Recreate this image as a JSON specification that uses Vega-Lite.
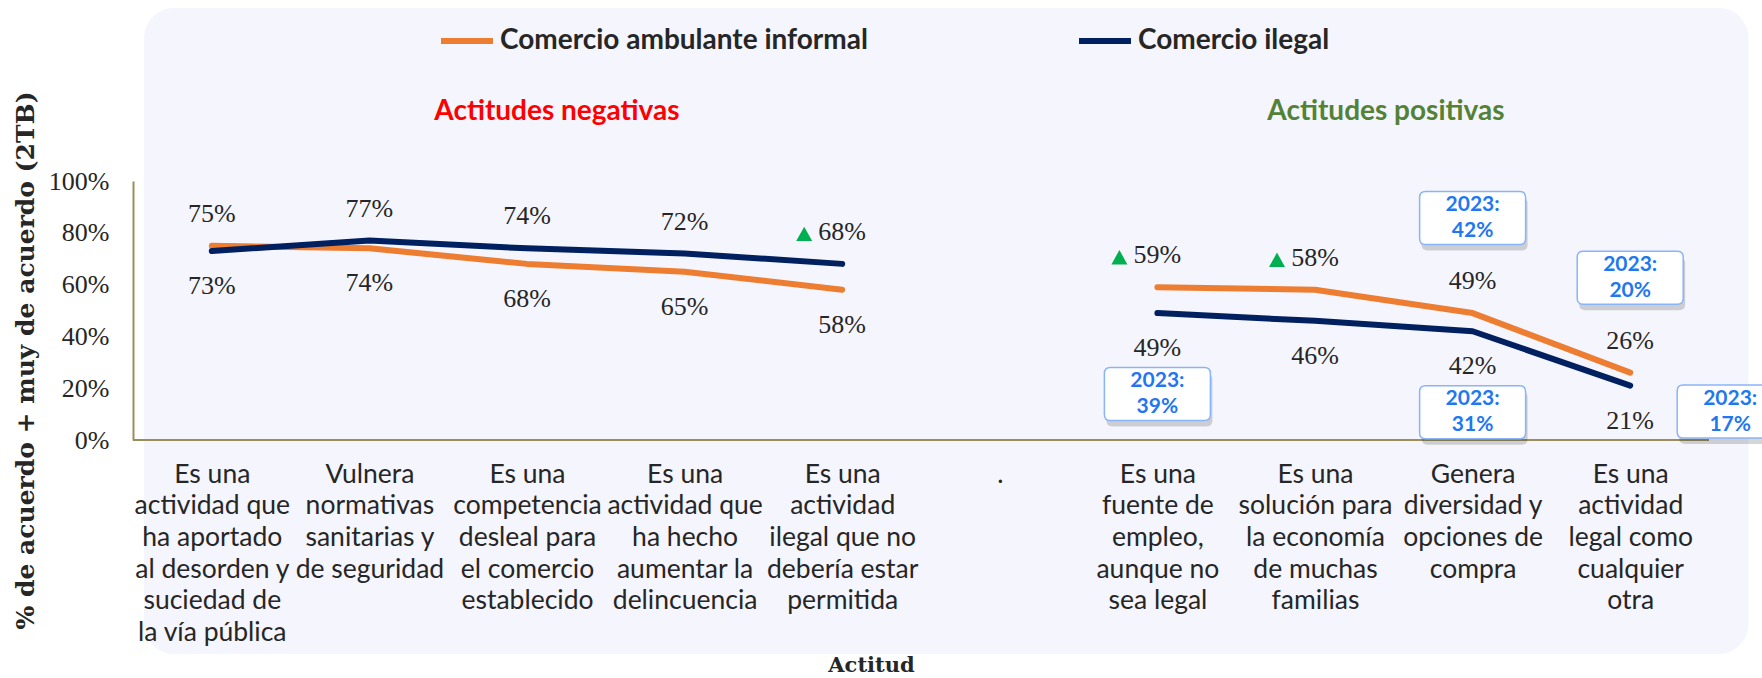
{
  "$schema": "https://vega.github.io/schema/vega-lite/v6.json",
  "width": 1576,
  "height": 259,
  "autosize": {"type": "none"},
  "padding": {"left": 133, "top": 181, "right": 53, "bottom": 238},
  "background": "#FFFFFF",
  "config": {"view": {"stroke": null}, "font": "Lato"},
  "data": {
    "values": [
      {"idx": 1, "cat": "Es una|actividad que|ha aportado|al desorden y|suciedad de|la vía pública", "serie": "Comercio ambulante informal", "grupo": "neg", "valor": 0.75},
      {"idx": 2, "cat": "Vulnera|normativas|sanitarias y|de seguridad", "serie": "Comercio ambulante informal", "grupo": "neg", "valor": 0.74},
      {"idx": 3, "cat": "Es una|competencia|desleal para|el comercio|establecido", "serie": "Comercio ambulante informal", "grupo": "neg", "valor": 0.68},
      {"idx": 4, "cat": "Es una|actividad que|ha hecho|aumentar la|delincuencia", "serie": "Comercio ambulante informal", "grupo": "neg", "valor": 0.65},
      {"idx": 5, "cat": "Es una|actividad|ilegal que no|debería estar|permitida", "serie": "Comercio ambulante informal", "grupo": "neg", "valor": 0.58},
      {"idx": 7, "cat": "Es una|fuente de|empleo,|aunque no|sea legal", "serie": "Comercio ambulante informal", "grupo": "pos", "valor": 0.59, "sube": true},
      {"idx": 8, "cat": "Es una|solución para|la economía|de muchas|familias", "serie": "Comercio ambulante informal", "grupo": "pos", "valor": 0.58, "sube": true},
      {"idx": 9, "cat": "Genera|diversidad y|opciones de|compra", "serie": "Comercio ambulante informal", "grupo": "pos", "valor": 0.49, "prev": 0.42},
      {"idx": 10, "cat": "Es una|actividad|legal como|cualquier|otra", "serie": "Comercio ambulante informal", "grupo": "pos", "valor": 0.26, "prev": 0.20},
      {"idx": 1, "cat": "Es una|actividad que|ha aportado|al desorden y|suciedad de|la vía pública", "serie": "Comercio ilegal", "grupo": "neg", "valor": 0.73},
      {"idx": 2, "cat": "Vulnera|normativas|sanitarias y|de seguridad", "serie": "Comercio ilegal", "grupo": "neg", "valor": 0.77},
      {"idx": 3, "cat": "Es una|competencia|desleal para|el comercio|establecido", "serie": "Comercio ilegal", "grupo": "neg", "valor": 0.74},
      {"idx": 4, "cat": "Es una|actividad que|ha hecho|aumentar la|delincuencia", "serie": "Comercio ilegal", "grupo": "neg", "valor": 0.72},
      {"idx": 5, "cat": "Es una|actividad|ilegal que no|debería estar|permitida", "serie": "Comercio ilegal", "grupo": "neg", "valor": 0.68, "sube": true},
      {"idx": 7, "cat": "Es una|fuente de|empleo,|aunque no|sea legal", "serie": "Comercio ilegal", "grupo": "pos", "valor": 0.49, "prev": 0.39},
      {"idx": 8, "cat": "Es una|solución para|la economía|de muchas|familias", "serie": "Comercio ilegal", "grupo": "pos", "valor": 0.46},
      {"idx": 9, "cat": "Genera|diversidad y|opciones de|compra", "serie": "Comercio ilegal", "grupo": "pos", "valor": 0.42, "prev": 0.31},
      {"idx": 10, "cat": "Es una|actividad|legal como|cualquier|otra", "serie": "Comercio ilegal", "grupo": "pos", "valor": 0.21, "prev": 0.17}
    ]
  },
  "resolve": {"scale": {"x": "independent"}, "axis": {"y": "independent"}},
  "layer": [
    {
      "data": {"values": [{}]},
      "mark": {"type": "rect", "fill": "#F5F5FD", "cornerRadius": 30},
      "encoding": {
        "x": {"datum": 0.07, "type": "quantitative", "scale": {"domain": [0, 10], "nice": false, "zero": false}, "axis": null},
        "x2": {"datum": 10.25},
        "y": {"datum": 1.668, "type": "quantitative", "scale": {"domain": [0, 1], "nice": false}, "axis": null},
        "y2": {"datum": -0.826}
      }
    },
    {
      "data": {"values": [{}]},
      "mark": {"type": "text", "font": "Lato", "fontWeight": "bold", "fontSize": 28, "color": "#FF0000", "align": "center", "baseline": "middle"},
      "encoding": {
        "x": {"datum": 2.69, "type": "quantitative", "scale": {"domain": [0, 10], "nice": false, "zero": false}, "axis": null},
        "y": {"datum": 1.266, "type": "quantitative", "scale": {"domain": [0, 1], "nice": false}, "axis": null},
        "text": {"value": "Actitudes negativas"}
      }
    },
    {
      "data": {"values": [{}]},
      "mark": {"type": "text", "font": "Lato", "fontWeight": "bold", "fontSize": 28, "color": "#548235", "align": "center", "baseline": "middle"},
      "encoding": {
        "x": {"datum": 7.95, "type": "quantitative", "scale": {"domain": [0, 10], "nice": false, "zero": false}, "axis": null},
        "y": {"datum": 1.266, "type": "quantitative", "scale": {"domain": [0, 1], "nice": false}, "axis": null},
        "text": {"value": "Actitudes positivas"}
      }
    },
    {
      "data": {"values": [{}]},
      "mark": {"type": "rule", "color": "#9A8F5C", "strokeWidth": 2},
      "encoding": {
        "y": {"datum": 0, "type": "quantitative", "scale": {"domain": [0, 1], "nice": false}, "axis": null}
      }
    },
    {
      "encoding": {
        "x": {
          "field": "cat", "type": "nominal",
          "scale": {"domain": [
            "Es una|actividad que|ha aportado|al desorden y|suciedad de|la vía pública",
            "Vulnera|normativas|sanitarias y|de seguridad",
            "Es una|competencia|desleal para|el comercio|establecido",
            "Es una|actividad que|ha hecho|aumentar la|delincuencia",
            "Es una|actividad|ilegal que no|debería estar|permitida",
            ".",
            "Es una|fuente de|empleo,|aunque no|sea legal",
            "Es una|solución para|la economía|de muchas|familias",
            "Genera|diversidad y|opciones de|compra",
            "Es una|actividad|legal como|cualquier|otra"
          ]},
          "axis": {
            "labelExpr": "split(datum.label, '|')",
            "labelFont": "Lato", "labelFontSize": 26.5, "labelLineHeight": 31.7, "labelColor": "#262626",
            "labelPadding": 21, "labelAngle": 0, "labelBaseline": "top", "labelLimit": 0, "labelOverlap": false,
            "ticks": false, "domain": false, "grid": false,
            "title": "Actitud", "titleFont": "DejaVu Serif", "titleFontWeight": "bold", "titleFontSize": 21, "titleColor": "#262626",
            "titleX": 738, "titleY": 225, "titleAlign": "center", "titleBaseline": "middle", "zindex": 1
          }
        },
        "y": {
          "field": "valor", "type": "quantitative",
          "scale": {"domain": [0, 1], "nice": false},
          "axis": {
            "values": [0, 0.2, 0.4, 0.6, 0.8, 1], "format": ".0%",
            "labelFont": "Liberation Serif", "labelFontSize": 26, "labelColor": "#262626", "labelPadding": 24,
            "ticks": false, "grid": false, "domainColor": "#9A8F5C", "domainWidth": 2,
            "title": "% de acuerdo + muy de acuerdo (2TB)", "titleFont": "DejaVu Serif", "titleFontWeight": "bold", "titleFontSize": 25, "titleColor": "#262626",
            "titleX": -108, "titleY": 179, "titleAngle": -90, "titleAlign": "center", "titleBaseline": "middle", "zindex": 1
          }
        }
      },
      "layer": [
        {
          "mark": {"type": "line", "strokeWidth": 6, "strokeCap": "round", "strokeJoin": "round"},
          "encoding": {
            "color": {
              "field": "serie", "type": "nominal",
              "scale": {"domain": ["Comercio ambulante informal", "Comercio ilegal"], "range": ["#ED7D31", "#002060"]},
              "legend": {
                "orient": "none", "legendX": 305, "legendY": -169, "direction": "horizontal", "title": null,
                "symbolType": "stroke", "symbolStrokeWidth": 6, "symbolSize": 2700,
                "labelFont": "Lato", "labelFontWeight": "bold", "labelFontSize": 28, "labelColor": "#262626",
                "labelOffset": 4, "columnPadding": 199, "labelLimit": 0
              }
            },
            "detail": {"field": "grupo"},
            "order": {"field": "idx"}
          }
        },
        {
          "transform": [
            {"joinaggregate": [{"op": "max", "field": "valor", "as": "maxv"}], "groupby": ["cat"]},
            {"filter": "datum.valor >= datum.maxv"}
          ],
          "mark": {"type": "text", "font": "Liberation Serif", "fontSize": 26, "color": "#262626", "baseline": "middle", "dy": -32},
          "encoding": {"text": {"field": "valor", "type": "quantitative", "format": ".0%"}}
        },
        {
          "transform": [
            {"joinaggregate": [{"op": "max", "field": "valor", "as": "maxv"}], "groupby": ["cat"]},
            {"filter": "datum.valor < datum.maxv"}
          ],
          "mark": {"type": "text", "font": "Liberation Serif", "fontSize": 26, "color": "#262626", "baseline": "middle", "dy": 35},
          "encoding": {"text": {"field": "valor", "type": "quantitative", "format": ".0%"}}
        },
        {
          "transform": [{"filter": "datum.sube === true"}],
          "mark": {"type": "point", "shape": "M0,-0.9L1,0.9L-1,0.9Z", "size": 256, "filled": true, "fill": "#00B050", "strokeWidth": 0, "opacity": 1, "xOffset": -38, "yOffset": -30}
        },
        {
          "transform": [
            {"joinaggregate": [{"op": "max", "field": "valor", "as": "maxv"}], "groupby": ["cat"]},
            {"filter": "isValid(datum.prev) && datum.valor < datum.maxv && datum.idx != 10"}
          ],
          "layer": [
            {"mark": {"type": "point", "shape": "M-0.887,-0.5L0.887,-0.5Q1,-0.5 1,-0.387L1,0.387Q1,0.5 0.887,0.5L-0.887,0.5Q-1,0.5 -1,0.387L-1,-0.387Q-1,-0.5 -0.887,-0.5Z", "size": 11236, "filled": true, "fill": "#000000", "opacity": 0.16, "strokeWidth": 0, "xOffset": 2, "yOffset": 87}},
            {"mark": {"type": "point", "shape": "M-0.887,-0.5L0.887,-0.5Q1,-0.5 1,-0.387L1,0.387Q1,0.5 0.887,0.5L-0.887,0.5Q-1,0.5 -1,0.387L-1,-0.387Q-1,-0.5 -0.887,-0.5Z", "size": 11236, "filled": true, "fill": "#FFFFFF", "stroke": "#8AB4F8", "strokeWidth": 1.5, "opacity": 1, "yOffset": 81}},
            {"mark": {"type": "text", "font": "Lato", "fontWeight": "bold", "fontSize": 21, "color": "#1F77F2", "baseline": "middle", "dy": 68}, "encoding": {"text": {"value": "2023:"}}},
            {"mark": {"type": "text", "font": "Lato", "fontWeight": "bold", "fontSize": 21, "color": "#1F77F2", "baseline": "middle", "dy": 94}, "encoding": {"text": {"field": "prev", "type": "quantitative", "format": ".0%"}}}
          ]
        },
        {
          "transform": [
            {"joinaggregate": [{"op": "max", "field": "valor", "as": "maxv"}], "groupby": ["cat"]},
            {"filter": "isValid(datum.prev) && datum.valor >= datum.maxv"}
          ],
          "layer": [
            {"mark": {"type": "point", "shape": "M-0.887,-0.5L0.887,-0.5Q1,-0.5 1,-0.387L1,0.387Q1,0.5 0.887,0.5L-0.887,0.5Q-1,0.5 -1,0.387L-1,-0.387Q-1,-0.5 -0.887,-0.5Z", "size": 11236, "filled": true, "fill": "#000000", "opacity": 0.16, "strokeWidth": 0, "xOffset": 2, "yOffset": -89}},
            {"mark": {"type": "point", "shape": "M-0.887,-0.5L0.887,-0.5Q1,-0.5 1,-0.387L1,0.387Q1,0.5 0.887,0.5L-0.887,0.5Q-1,0.5 -1,0.387L-1,-0.387Q-1,-0.5 -0.887,-0.5Z", "size": 11236, "filled": true, "fill": "#FFFFFF", "stroke": "#8AB4F8", "strokeWidth": 1.5, "opacity": 1, "yOffset": -95}},
            {"mark": {"type": "text", "font": "Lato", "fontWeight": "bold", "fontSize": 21, "color": "#1F77F2", "baseline": "middle", "dy": -108}, "encoding": {"text": {"value": "2023:"}}},
            {"mark": {"type": "text", "font": "Lato", "fontWeight": "bold", "fontSize": 21, "color": "#1F77F2", "baseline": "middle", "dy": -82}, "encoding": {"text": {"field": "prev", "type": "quantitative", "format": ".0%"}}}
          ]
        },
        {
          "transform": [
            {"joinaggregate": [{"op": "max", "field": "valor", "as": "maxv"}], "groupby": ["cat"]},
            {"filter": "isValid(datum.prev) && datum.valor < datum.maxv && datum.idx == 10"}
          ],
          "layer": [
            {"mark": {"type": "point", "shape": "M-0.887,-0.5L0.887,-0.5Q1,-0.5 1,-0.387L1,0.387Q1,0.5 0.887,0.5L-0.887,0.5Q-1,0.5 -1,0.387L-1,-0.387Q-1,-0.5 -0.887,-0.5Z", "size": 11236, "filled": true, "fill": "#000000", "opacity": 0.16, "strokeWidth": 0, "xOffset": 102, "yOffset": 32}},
            {"mark": {"type": "point", "shape": "M-0.887,-0.5L0.887,-0.5Q1,-0.5 1,-0.387L1,0.387Q1,0.5 0.887,0.5L-0.887,0.5Q-1,0.5 -1,0.387L-1,-0.387Q-1,-0.5 -0.887,-0.5Z", "size": 11236, "filled": true, "fill": "#FFFFFF", "stroke": "#8AB4F8", "strokeWidth": 1.5, "opacity": 1, "xOffset": 100, "yOffset": 26}},
            {"mark": {"type": "text", "font": "Lato", "fontWeight": "bold", "fontSize": 21, "color": "#1F77F2", "baseline": "middle", "dx": 100, "dy": 13}, "encoding": {"text": {"value": "2023:"}}},
            {"mark": {"type": "text", "font": "Lato", "fontWeight": "bold", "fontSize": 21, "color": "#1F77F2", "baseline": "middle", "dx": 100, "dy": 39}, "encoding": {"text": {"field": "prev", "type": "quantitative", "format": ".0%"}}}
          ]
        }
      ]
    }
  ]
}
